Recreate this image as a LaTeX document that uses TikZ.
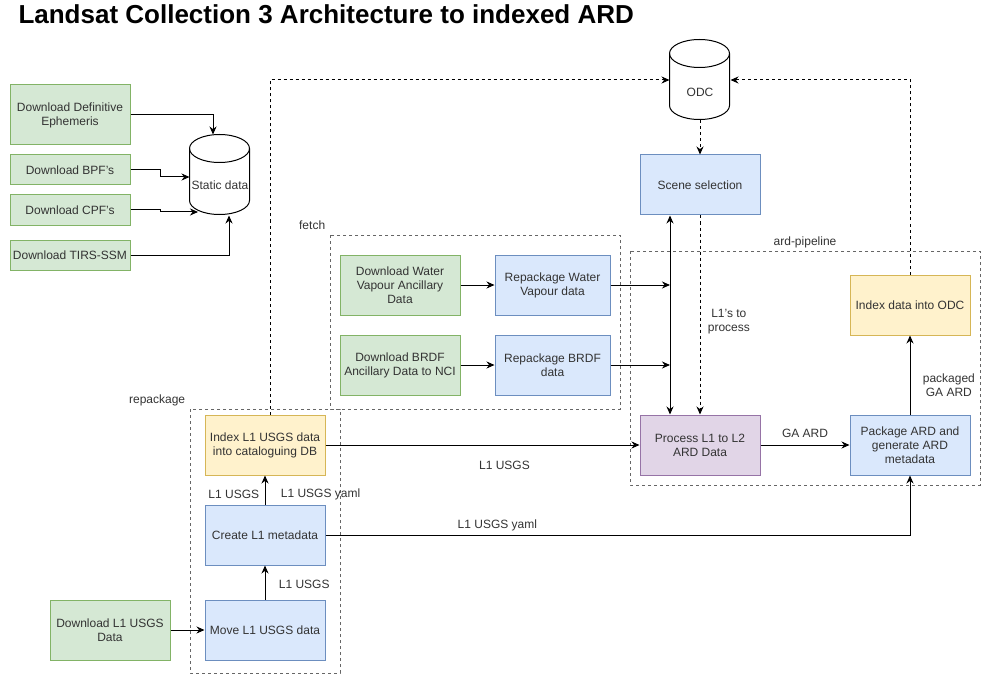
\documentclass[tikz,border=0pt]{standalone}
\usepackage{fontspec}
\setmainfont{Liberation Sans}
\usetikzlibrary{arrows.meta}
\definecolor{dlfill}{HTML}{D5E8D4}
\definecolor{dlline}{HTML}{82B366}
\definecolor{rpfill}{HTML}{DAE8FC}
\definecolor{rpline}{HTML}{6C8EBF}
\definecolor{ixfill}{HTML}{FFF2CC}
\definecolor{ixline}{HTML}{D6B656}
\definecolor{prfill}{HTML}{E1D5E7}
\definecolor{prline}{HTML}{9673A6}
\definecolor{txt}{HTML}{333333}
\begin{document}
\begin{tikzpicture}[x=1pt,y=-1pt,line width=1pt,
  font=\fontsize{12}{14}\selectfont,
  >={Stealth[length=8pt,width=7pt]},
  every node/.style={text=txt},
  box/.style={draw,minimum width=120pt,minimum height=60pt,align=center,inner sep=2pt},
  dlbox/.style={box,fill=dlfill,draw=dlline},
  rpbox/.style={box,fill=rpfill,draw=rpline},
  ixbox/.style={box,fill=ixfill,draw=ixline},
  prbox/.style={box,fill=prfill,draw=prline},
  dashy/.style={dash pattern=on 3pt off 3pt},
  group/.style={draw=black!60,line width=0.8pt,dashy},
  db/.style={minimum width=60pt,minimum height=80pt,inner sep=0pt}]
  \useasboundingbox[fill=white] (0,0) rectangle (981,676);
  \node[anchor=base west,inner sep=0,text=black,font=\bfseries\fontsize{26}{30}\selectfont] (title) at (18,23.5) {Landsat Collection 3 Architecture to indexed ARD};

  % groups
  \draw[group] (330,235) rectangle (620,409);
  \draw[group] (630,251) rectangle (980,485);
  \draw[group] (190,409) rectangle (340,673);
  \node[anchor=east] (fetchlbl) at (329,225) {fetch};
  \node (ardlbl) at (805,242) {ard-pipeline};
  \node[anchor=east] (repacklbl) at (189,400) {repackage};

  % static inputs
  \node[dlbox] (eph) at (70,115) {Download Definitive\\Ephemeris};
  \node[dlbox,minimum height=30pt] (bpf) at (70,170) {Download BPF's};
  \node[dlbox,minimum height=30pt] (cpf) at (70,210) {Download CPF's};
  \node[dlbox,minimum height=30pt] (tirs) at (70,255) {Download TIRS-SSM};
  \node[db] (static) at (220,175) {};
  \node[db] (odc) at (700,80) {};
  \foreach \c in {static,odc} {
    \draw[fill=white] ([yshift=-14pt]\c.north west) arc[start angle=180,end angle=0,x radius=30pt,y radius=14pt]
      -- ++(0,52) arc[start angle=0,end angle=-180,x radius=30pt,y radius=14pt] -- cycle;
    \draw ([yshift=-14pt]\c.north west) arc[start angle=180,end angle=360,x radius=30pt,y radius=14pt];
  }
  \node (staticlbl) at ([yshift=-10pt]static.center) {Static data};
  \node (odclbl) at ([yshift=-12pt]odc.center) {ODC};
  \coordinate (cpfin) at (198,212);

  % fetch
  \node[dlbox] (wvdl) at (400,285) {Download Water\\Vapour Ancillary\\Data};
  \node[rpbox,minimum width=115pt] (wvrp) at (552.5,285) {Repackage Water\\Vapour data};
  \node[dlbox] (brdfdl) at (400,365) {Download BRDF\\Ancillary Data to NCI};
  \node[rpbox,minimum width=115pt] (brdfrp) at (552.5,365) {Repackage BRDF\\data};

  % ard-pipeline
  \node[rpbox] (scene) at (700,185) {Scene selection};
  \node[prbox] (proc) at (700,445) {Process L1 to L2\\ARD Data};
  \node[rpbox] (pkg) at (910,445) {Package ARD and\\generate ARD\\metadata};
  \node[ixbox] (idxodc) at (910,305) {Index data into ODC};
  \coordinate (pin) at ([xshift=-30pt]proc.north);

  % repackage
  \node[ixbox] (idxl1) at (265,445) {Index L1 USGS data\\into cataloguing DB};
  \node[rpbox] (create) at (265,535) {Create L1 metadata};
  \node[rpbox] (move) at (265,630) {Move L1 USGS data};
  \node[dlbox] (dll1) at (110,630) {Download L1 USGS\\Data};

  % connectors
  \draw[->] (eph.east) -| ([xshift=-7pt]static.north);
  \draw[->] (bpf.east) -- ++(30,0) |- ([yshift=-2pt]static.west);
  \draw[->] (cpf.east) -- ++(30,0) |- (cpfin);
  \draw[->] (tirs.east) -| ([xshift=9pt]static.south);
  \draw[->] (wvdl) -- (wvrp);
  \draw[->] (brdfdl) -- (brdfrp);
  \draw[->] (wvrp.east) -- (wvrp.east -| pin);
  \draw[->] (brdfrp.east) -- (brdfrp.east -| pin);
  \draw[<->] ([xshift=-30pt]scene.south) -- (pin);
  \draw[->,dashy] (scene.south) -- node[right,align=center,xshift=4pt,yshift=-7pt] {L1's to\\process} (proc.north);
  \draw[->,dashy] (odc.south) -- (scene.north);
  \draw[->,dashy] ([xshift=5pt]idxl1.north) |- (odc.west);
  \draw[->,dashy] (idxodc.north) |- (odc.east);
  \draw[->] (proc) -- node[above,yshift=4pt] {GA ARD} (pkg);
  \draw[->] (pkg) -- node[right,align=center,xshift=9pt,yshift=-10pt] {packaged\\GA ARD} (idxodc);
  \draw[->] (dll1) -- (move);
  \draw[->] (move) -- node[right,xshift=10pt,yshift=-2pt] {L1 USGS} (create);
  \draw[->] (create) -- node[left,xshift=-2pt,yshift=-4pt] {L1 USGS} node[right,xshift=12pt,yshift=-4pt] {L1 USGS yaml} (idxl1);
  \draw[->] (idxl1) -- node[pos=0.57,yshift=-20pt] {L1 USGS} (proc);
  \draw[->] (create) -| node[pos=0.147,above] {L1 USGS yaml} (pkg);
\end{tikzpicture}
\end{document}
